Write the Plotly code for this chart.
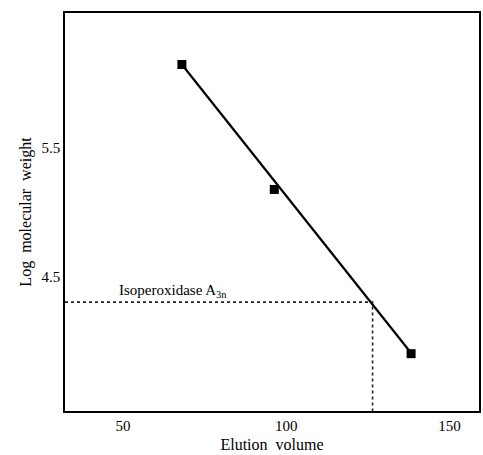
import plotly.graph_objects as go

# Data
elution_volume = [68.0, 96.3, 138.2]
log_mw = [6.15, 5.18, 3.905]

# Fitted calibration line endpoints
fit_x = [68.0, 138.2]
fit_y = [6.15, 3.91]

# Isoperoxidase A3n reading
iso_volume = 126.4
iso_logmw = 4.305

x_range = [32.2, 159.0]
y_range = [3.46, 6.55]

x_ticks = [50, 100, 150]
y_ticks = [4.5, 5.5]

FONT = "Liberation Serif"

fig = go.Figure()

fig.add_trace(go.Scatter(
    x=fit_x, y=fit_y, mode="lines",
    line=dict(color="black", width=2.2), showlegend=False, hoverinfo="skip"))

fig.add_trace(go.Scatter(
    x=elution_volume, y=log_mw, mode="markers",
    marker=dict(symbol="square", size=9, color="black"),
    showlegend=False))

# dotted guide lines
fig.add_trace(go.Scatter(
    x=[x_range[0], iso_volume, iso_volume], y=[iso_logmw, iso_logmw, y_range[0]],
    mode="lines", line=dict(color="#222222", width=1.6, dash="dot"),
    showlegend=False, hoverinfo="skip"))

fig.add_annotation(
    x=48, y=iso_logmw, xref="x", yref="y",
    text="Isoperoxidase A<sub>3n</sub>", showarrow=False,
    xanchor="left", yanchor="bottom", yshift=0,
    font=dict(family=FONT, size=15, color="black"))

fig.update_xaxes(
    range=x_range, tickvals=x_ticks, ticktext=[str(v) for v in x_ticks],
    showgrid=False, zeroline=False, showline=True, linecolor="black",
    linewidth=1.5, mirror=True, ticks="",
    tickfont=dict(family=FONT, size=15, color="black"),
    title=dict(text="Elution&nbsp; volume", font=dict(family=FONT, size=16, color="black"),
               standoff=6))

fig.update_yaxes(
    range=y_range, tickvals=y_ticks, ticktext=[str(v) for v in y_ticks],
    showgrid=False, zeroline=False, showline=True, linecolor="black",
    linewidth=1.5, mirror=True, ticks="",
    tickfont=dict(family=FONT, size=15, color="black"),
    title=dict(text="Log&nbsp; molecular&nbsp; weight", font=dict(family=FONT, size=16, color="black"),
               standoff=6))

fig.update_layout(
    width=483, height=455,
    margin=dict(l=65, r=2, t=13, b=44),
    paper_bgcolor="white", plot_bgcolor="white")

fig.write_html("out.html")
